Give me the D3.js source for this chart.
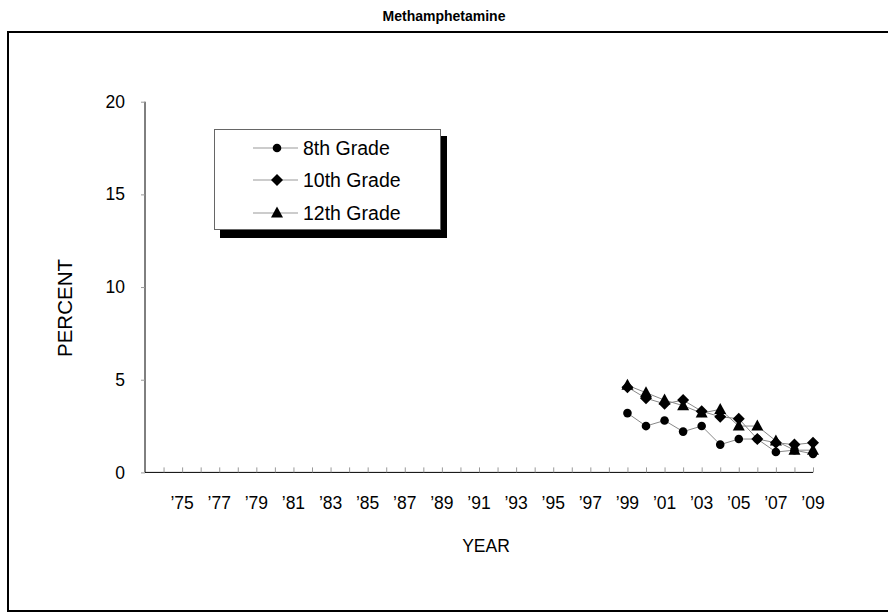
<!DOCTYPE html>
<html><head><meta charset="utf-8">
<script src="https://cdn.jsdelivr.net/npm/d3@7"></script>
<style>
body{margin:0;background:#fff;}
svg{font-family:"Liberation Sans",Arial,sans-serif;}
</style></head>
<body><svg id="c" width="888" height="615"></svg>
<script>
const title = "Methamphetamine";
const years = [1999,2000,2001,2002,2003,2004,2005,2006,2007,2008,2009];
const grade8  = [3.2,2.5,2.8,2.2,2.5,1.5,1.8,1.8,1.1,1.2,1.0];
const grade10 = [4.6,4.0,3.7,3.9,3.3,3.0,2.9,1.8,1.6,1.5,1.6];
const grade12 = [4.7,4.3,3.9,3.6,3.2,3.4,2.5,2.5,1.7,1.2,1.2];
const seriesNames = ["8th Grade","10th Grade","12th Grade"];
const tickYears = d3.range(1975,2010,2);
const yTicks = [0,5,10,15,20];

const svg = d3.select("#c");
// outer frame
svg.append("rect").attr("x",8).attr("y",32).attr("width",900).attr("height",579)
  .attr("fill","none").attr("stroke","#000").attr("stroke-width",2);
svg.append("text").attr("x",444).attr("y",21).attr("text-anchor","middle")
  .attr("font-size",14).attr("font-weight","bold").text(title);

const x = d3.scaleLinear().domain([1973,2009]).range([145,813]);
const y = d3.scaleLinear().domain([0,20]).range([472.4,101.7]);

// y axis
const ya = svg.append("g").attr("transform","translate(145,0)")
  .call(d3.axisLeft(y).tickValues(yTicks).tickSize(4).tickPadding(16).tickFormat(d3.format("d")));
ya.select(".domain").attr("stroke","#000").attr("d","M0,"+y(20)+"V"+y(0));
ya.selectAll(".tick line").attr("stroke","#999");
ya.selectAll(".tick text").attr("font-size",17.5).attr("fill","#000").attr("font-family","Liberation Sans, Arial, sans-serif");

// x axis
const xa = svg.append("g").attr("transform","translate(0,"+y(0)+")")
  .call(d3.axisTop(x).tickValues(d3.range(1974,2010)).tickSize(5).tickFormat(""));
xa.select(".domain").attr("stroke","#000").attr("d","M145,0H813");
xa.selectAll(".tick line").attr("stroke","#999");
svg.append("g").selectAll("text").data(tickYears).join("text")
  .attr("x",d=>x(d)).attr("y",509).attr("text-anchor","middle").attr("font-size",17.5)
  .text(d=>"\u2019"+String(d).slice(2));

svg.append("text").attr("x",486).attr("y",552).attr("text-anchor","middle").attr("font-size",17.5).text("YEAR");
svg.append("text").attr("transform","translate(72,308) rotate(-90)").attr("text-anchor","middle").attr("font-size",20.5).text("PERCENT");

// markers
const markers = {
  circle:(cx,cy)=>`M${cx-4.3},${cy}a4.3,4.3 0 1,0 8.6,0a4.3,4.3 0 1,0 -8.6,0Z`,
  diamond:(cx,cy)=>`M${cx},${cy-6}L${cx+6},${cy}L${cx},${cy+6}L${cx-6},${cy}Z`,
  triangle:(cx,cy)=>`M${cx},${cy-6.5}L${cx+6},${cy+4.5}L${cx-6},${cy+4.5}Z`
};
const series = [
  {name:seriesNames[0], vals:grade8, m:"circle"},
  {name:seriesNames[1], vals:grade10, m:"diamond"},
  {name:seriesNames[2], vals:grade12, m:"triangle"}
];
const line = d3.line().x((d,i)=>x(years[i])).y(d=>y(d));
series.forEach(s=>{
  svg.append("path").attr("d",line(s.vals)).attr("fill","none").attr("stroke","#888").attr("stroke-width",1);
});
series.forEach(s=>{
  svg.append("g").selectAll("path").data(s.vals).join("path")
    .attr("d",(d,i)=>markers[s.m](x(years[i]),y(d))).attr("fill","#000");
});

// legend
const lg = svg.append("g");
lg.append("rect").attr("x",220).attr("y",136).attr("width",227).attr("height",102).attr("fill","#000");
lg.append("rect").attr("x",214.5).attr("y",129.5).attr("width",226).attr("height",100).attr("fill","#fff").attr("stroke","#666").attr("stroke-width",1);
const rowsY = [148,180,213];
series.forEach((s,i)=>{
  const yy = rowsY[i];
  lg.append("line").attr("x1",253).attr("x2",298).attr("y1",yy).attr("y2",yy).attr("stroke","#999");
  lg.append("path").attr("d",markers[s.m](277,yy)).attr("fill","#000");
  lg.append("text").attr("x",303).attr("y",yy+6.5).attr("font-size",19.5).text(s.name);
});
</script></body></html>
